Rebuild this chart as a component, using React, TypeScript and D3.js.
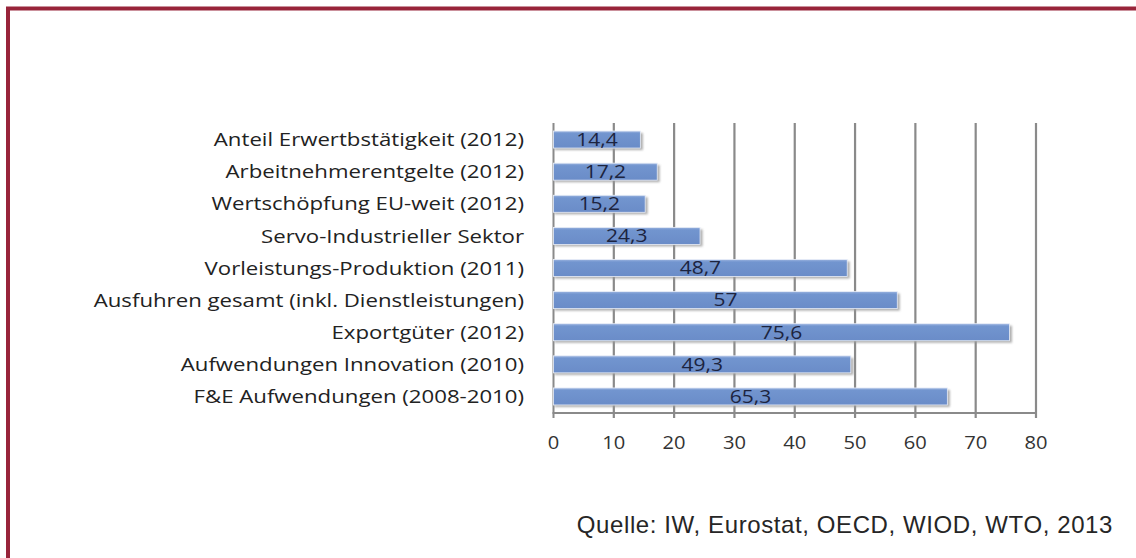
import React from "react";
import * as d3 from "d3";

const categories = [
  "Anteil Erwertbstätigkeit (2012)",
  "Arbeitnehmerentgelte (2012)",
  "Wertschöpfung EU-weit (2012)",
  "Servo-Industrieller Sektor",
  "Vorleistungs-Produktion (2011)",
  "Ausfuhren gesamt (inkl. Dienstleistungen)",
  "Exportgüter (2012)",
  "Aufwendungen Innovation (2010)",
  "F&E Aufwendungen (2008-2010)",
];
const values = [14.4, 17.2, 15.2, 24.3, 48.7, 57, 75.6, 49.3, 65.3];
const valueLabels = ["14,4", "17,2", "15,2", "24,3", "48,7", "57", "75,6", "49,3", "65,3"];
const ticks = [0, 10, 20, 30, 40, 50, 60, 70, 80];
const source = "Quelle: IW, Eurostat, OECD, WIOD, WTO, 2013";

export default function App() {
  const W = 1136, H = 558;
  const SX = 1.2;
  const x = d3.scaleLinear().domain([0, 80]).range([553.5, 1036]);
  const y = d3.scaleBand<string>().domain(categories).range([123, 413]).paddingInner(0.47).paddingOuter(0.25);
  const bh = y.bandwidth();
  const labelFont = "'Open Sans', 'DejaVu Sans', sans-serif";
  return (
    <svg width={W} height={H} style={{ position: "absolute", left: 0, top: 0, display: "block" }}>
      <defs>
        <filter id="sh" x="-5%" y="-50%" width="110%" height="200%">
          <feGaussianBlur stdDeviation="1.2" />
        </filter>
        <linearGradient id="bg" x1="0" y1="0" x2="0" y2="1">
          <stop offset="0" stopColor="#9ab3df" />
          <stop offset="0.15" stopColor="#7295cf" />
          <stop offset="1" stopColor="#6a8cc8" />
        </linearGradient>
      </defs>
      <rect x={0} y={0} width={W} height={H} fill="#fff" />
      <rect x={8} y={8.5} width={W + 20} height={H + 20} fill="none" stroke="#98243a" strokeWidth={4} />
      {ticks.map((t) => (
        <line key={t} x1={x(t)} x2={x(t)} y1={123} y2={418} stroke="#8a8a8a" strokeWidth={t === 0 ? 2 : 2.2} />
      ))}
      <line x1={x(0) - 1} x2={x(80)} y1={413} y2={413} stroke="#8a8a8a" strokeWidth={2} />
      {categories.map((c, i) => {
        const yy = y(c)!;
        const w = x(values[i]) - x(0);
        return (
          <g key={c}>
            <rect x={x(0) + 1} y={yy + 2} width={w + 1.5} height={bh} fill="#9a9a9a" filter="url(#sh)" opacity={0.8} />
            <rect x={x(0)} y={yy} width={w} height={bh} fill="url(#bg)" stroke="#e9eef8" strokeWidth={0.8} />
            <g transform={`translate(${x(0) + w / 2},${yy + bh / 2}) scale(${SX},1)`}>
              <text x={0} y={0} dy="0.36em" textAnchor="middle" fontFamily={labelFont} fontSize={17.5} fill="#1c2440">
                {valueLabels[i]}
              </text>
            </g>
            <g transform={`translate(524,${yy + bh / 2}) scale(${SX},1)`}>
              <text x={0} y={0} dy="0.36em" textAnchor="end" fontFamily={labelFont} fontSize={18.5} fill="#222">
                {c}
              </text>
            </g>
          </g>
        );
      })}
      {ticks.map((t) => (
        <g key={t} transform={`translate(${x(t)},443) scale(1.15,1)`}>
          <text x={0} y={0} dy="0.36em" textAnchor="middle" fontFamily={labelFont} fontSize={17.5} fill="#333">
            {t}
          </text>
        </g>
      ))}
      <text x={1113} y={533} textAnchor="end" fontFamily="'Liberation Sans', Arial, sans-serif" fontSize={24} letterSpacing={0.6} fill="#262626">
        {source}
      </text>
    </svg>
  );
}
